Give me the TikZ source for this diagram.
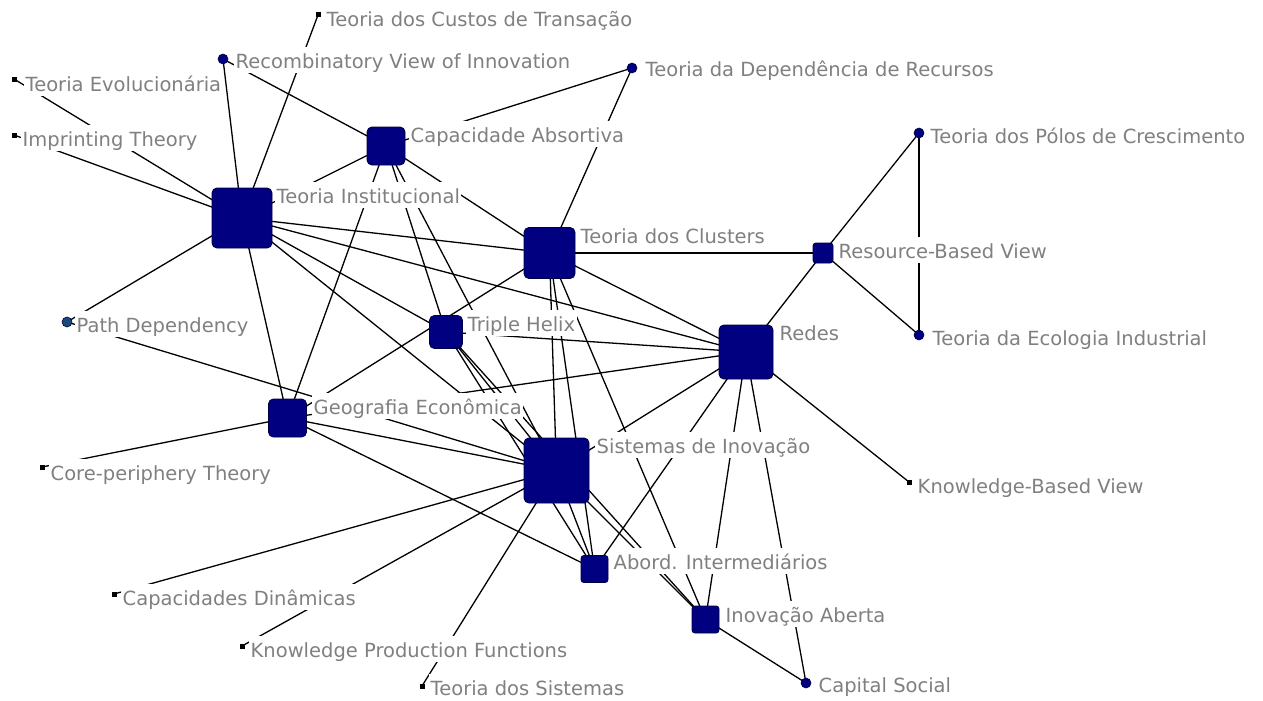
\documentclass[tikz,border=0pt]{standalone}
\usepackage{fontspec}
\setmainfont{DejaVu Sans}
\definecolor{nodefill}{RGB}{0,0,128}
\definecolor{nodeline}{RGB}{0,0,70}
\definecolor{pdfill}{RGB}{26,74,122}
\definecolor{labelgray}{RGB}{128,128,128}
\begin{document}
\begin{tikzpicture}[x=1pt,y=-1pt,
  sq/.style={rectangle, draw=nodeline, fill=nodefill, line width=0.9pt, rounded corners=5pt, inner sep=0pt, minimum size=#1},
  sqs/.style={rectangle, draw=nodeline, fill=nodefill, line width=0.9pt, rounded corners=3pt, inner sep=0pt, minimum size=#1},
  dot/.style={circle, draw=nodeline, fill=nodefill, line width=0.6pt, inner sep=0pt, minimum size=10pt},
  tiny/.style={rectangle, fill=black, inner sep=0pt, minimum size=5pt},
  lab/.style={anchor=base west, fill=white, text=labelgray, inner xsep=1.5pt, inner ysep=4pt, text height=17pt, text depth=1pt, font=\fontsize{19.5}{22}\selectfont},
  edge/.style={draw=black, line width=1.3pt}
]
\fill[white] (0,0) rectangle (1263,701);
\useasboundingbox (0,0) rectangle (1263,701);

% node coordinates (centres)
\coordinate (pcus) at (318,15);
\coordinate (prec) at (223,59);
\coordinate (pevo) at (14,79);
\coordinate (pimp) at (14,135);
\coordinate (ptdr) at (632,68);
\coordinate (pca) at (386,146);
\coordinate (pti) at (242,218);
\coordinate (ptc) at (549.5,253);
\coordinate (prbv) at (823,253);
\coordinate (ppol) at (919,133);
\coordinate (peco) at (919,335);
\coordinate (pred) at (746,352);
\coordinate (ppd) at (67,322);
\coordinate (pth) at (446,332);
\coordinate (pge) at (287.5,418);
\coordinate (psi) at (556.5,470.5);
\coordinate (pcp) at (42,467);
\coordinate (pkbv) at (909,482);
\coordinate (pai) at (594.5,569);
\coordinate (pcd) at (114,594);
\coordinate (pia) at (705.5,619.5);
\coordinate (pkpf) at (242,646);
\coordinate (pcs) at (806,683);
\coordinate (pts) at (422,686);

% edges (drawn first, between centres)
\foreach \a/\b in {cus/ti, rec/ti, rec/ca, evo/ti, imp/ti, pd/ti, pd/si,
  ca/ti, ca/tdr, ca/tc, ca/ge, ca/th, ca/si, tdr/tc,
  ti/tc, ti/red, ti/th, ti/si, ti/ge,
  tc/rbv, tc/red, tc/ge, tc/si, tc/ai, tc/ia,
  rbv/pol, rbv/eco, pol/eco, rbv/red,
  red/th, red/ge, red/si, red/ai, red/ia, red/cs, red/kbv,
  th/si, th/ai, th/ia, ge/cp, ge/si, ge/ai,
  si/cd, si/kpf, si/ts, si/ai, si/ia, ia/cs}
  \draw[edge] (p\a) -- (p\b);

% labels
\node[lab] (lcus) at (325,27) {Teoria dos Custos de Transação};
\node[lab] (lrec) at (234,68) {Recombinatory View of Innovation};
\node[lab] (levo) at (24,91) {Teoria Evolucionária};
\node[lab] (limp) at (21,146) {Imprinting Theory};
\node[lab] (lca) at (409,142) {Capacidade Absortiva};
\node[lab] (lti) at (275,203) {Teoria Institucional};
\node[lab] (ltdr) at (644,77) {Teoria da Dependência de Recursos};
\node[lab] (ltc) at (579,243) {Teoria dos Clusters};
\node[lab] (lpol) at (929,143) {Teoria dos Pólos de Crescimento};
\node[lab] (lrbv) at (837,258) {Resource-Based View};
\node[lab] (leco) at (931,345) {Teoria da Ecologia Industrial};
\node[lab] (lred) at (778,340) {Redes};
\node[lab] (lpd) at (75,332) {Path Dependency};
\node[lab] (lth) at (466,331) {Triple Helix};
\node[lab] (lge) at (312,414) {Geografia Econômica};
\node[lab] (lsi) at (595,453) {Sistemas de Inovação};
\node[lab] (lcp) at (49,480) {Core-periphery Theory};
\node[lab] (lkbv) at (916,493) {Knowledge-Based View};
\node[lab] (lai) at (612,569) {Abord. Intermediários};
\node[lab] (lcd) at (121,605) {Capacidades Dinâmicas};
\node[lab] (lia) at (724,622) {Inovação Aberta};
\node[lab] (lkpf) at (249,657) {Knowledge Production Functions};
\node[lab] (lcs) at (817,692) {Capital Social};
\node[lab] (lts) at (429,695) {Teoria dos Sistemas};

% nodes
\node[tiny] (cus) at (pcus) {};
\node[dot] (rec) at (prec) {};
\node[tiny] (evo) at (pevo) {};
\node[tiny] (imp) at (pimp) {};
\node[dot] (tdr) at (ptdr) {};
\node[sq=38pt] (ca) at (pca) {};
\node[sq=60pt] (ti) at (pti) {};
\node[sq=51pt] (tc) at (ptc) {};
\node[sqs=20pt] (rbv) at (prbv) {};
\node[dot] (pol) at (ppol) {};
\node[dot] (eco) at (peco) {};
\node[sq=54pt] (red) at (pred) {};
\node[dot, fill=pdfill] (pd) at (ppd) {};
\node[sq=33pt] (th) at (pth) {};
\node[sq=38pt] (ge) at (pge) {};
\node[sq=65pt] (si) at (psi) {};
\node[tiny] (cp) at (pcp) {};
\node[tiny] (kbv) at (pkbv) {};
\node[sqs=27pt] (ai) at (pai) {};
\node[tiny] (cd) at (pcd) {};
\node[sqs=27pt] (ia) at (pia) {};
\node[tiny] (kpf) at (pkpf) {};
\node[dot] (cs) at (pcs) {};
\node[tiny] (ts) at (pts) {};
\end{tikzpicture}
\end{document}
